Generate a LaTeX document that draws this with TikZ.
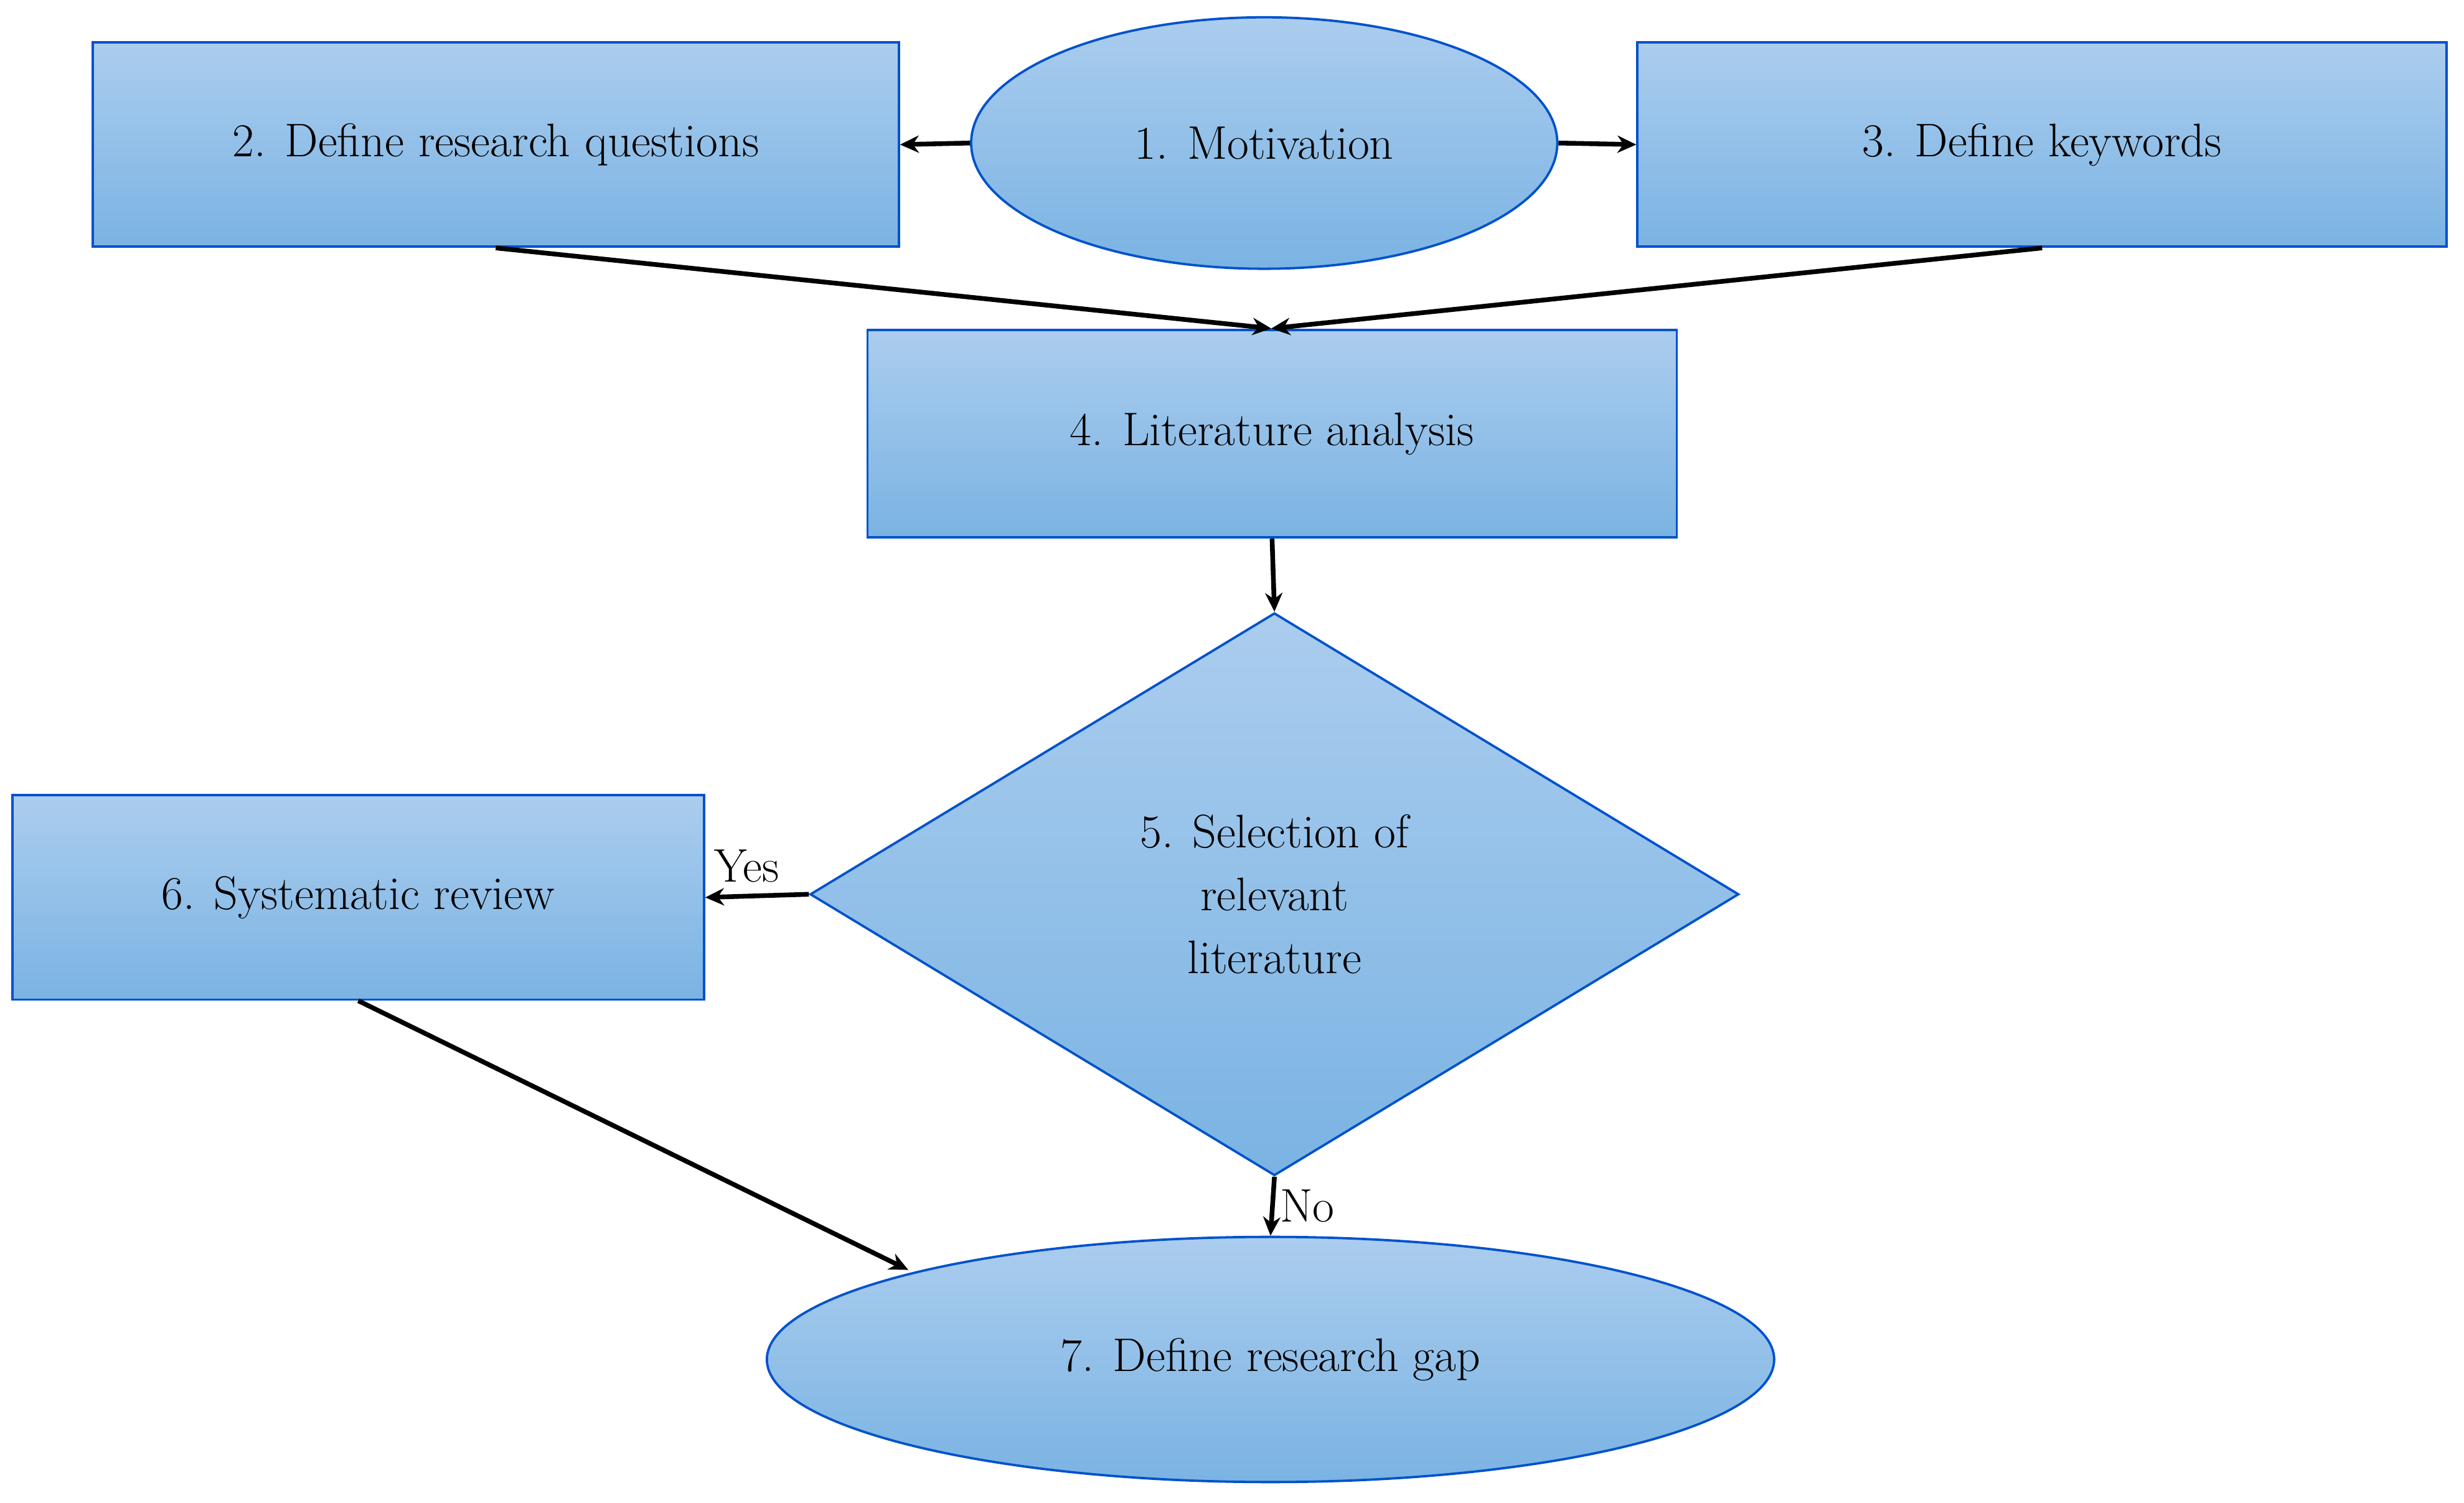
\documentclass[tikz,border=0pt]{standalone}
\usetikzlibrary{shapes.geometric,arrows.meta}
\begin{document}
\begin{tikzpicture}[x=1pt,y=-1pt,
  blk/.style={draw=blue!60!cyan!80!black, line width=1.5pt, top color=topc, bottom color=botc, inner sep=0pt, align=center, font=\fontsize{30}{40}\selectfont},
  box/.style={blk, rectangle},
  ell/.style={blk, ellipse},
  dia/.style={blk, diamond},
  arr/.style={line width=3pt, -{Stealth[length=12pt,width=11pt]}}]
\definecolor{topc}{HTML}{ABCDEE}
\definecolor{botc}{HTML}{7AB3E3}
\useasboundingbox (0,0) rectangle (1568,956);
\node[box, minimum width=513pt, minimum height=130pt] (n2) at (315.5,92) {2. Define research questions};
\node[ell, minimum width=373pt, minimum height=160pt] (n1) at (804.5,91) {1. Motivation};
\node[box, minimum width=515pt, minimum height=130pt] (n3) at (1299.5,92) {3. Define keywords};
\node[box, minimum width=515pt, minimum height=132pt] (n4) at (809.5,276) {4. Literature analysis};
\node[dia, minimum width=591pt, minimum height=358pt] (n5) at (811,569) {5. Selection of\\relevant\\literature};
\node[box, minimum width=440pt, minimum height=130pt] (n6) at (228,571) {6. Systematic review};
\node[ell, minimum width=641pt, minimum height=156pt] (n7) at (808.5,865) {7. Define research gap};
\coordinate (t4) at (809,209);
\coordinate (e7) at (578,808);
\draw[arr] (n1.west) -- (n2.east);
\draw[arr] (n1.east) -- (n3.west);
\draw[arr] (n2.south) -- (t4);
\draw[arr] (n3.south) -- (t4);
\draw[arr] (n4.south) -- (n5.north);
\draw[arr] (n5.west) -- node[above, pos=0.6, font=\fontsize{30}{36}\selectfont, yshift=4pt]{Yes} (n6.east);
\draw[arr] (n5.south) -- node[right, font=\fontsize{30}{36}\selectfont]{No} (n7.north);
\draw[arr] (n6.south) -- (e7);
\end{tikzpicture}
\end{document}
